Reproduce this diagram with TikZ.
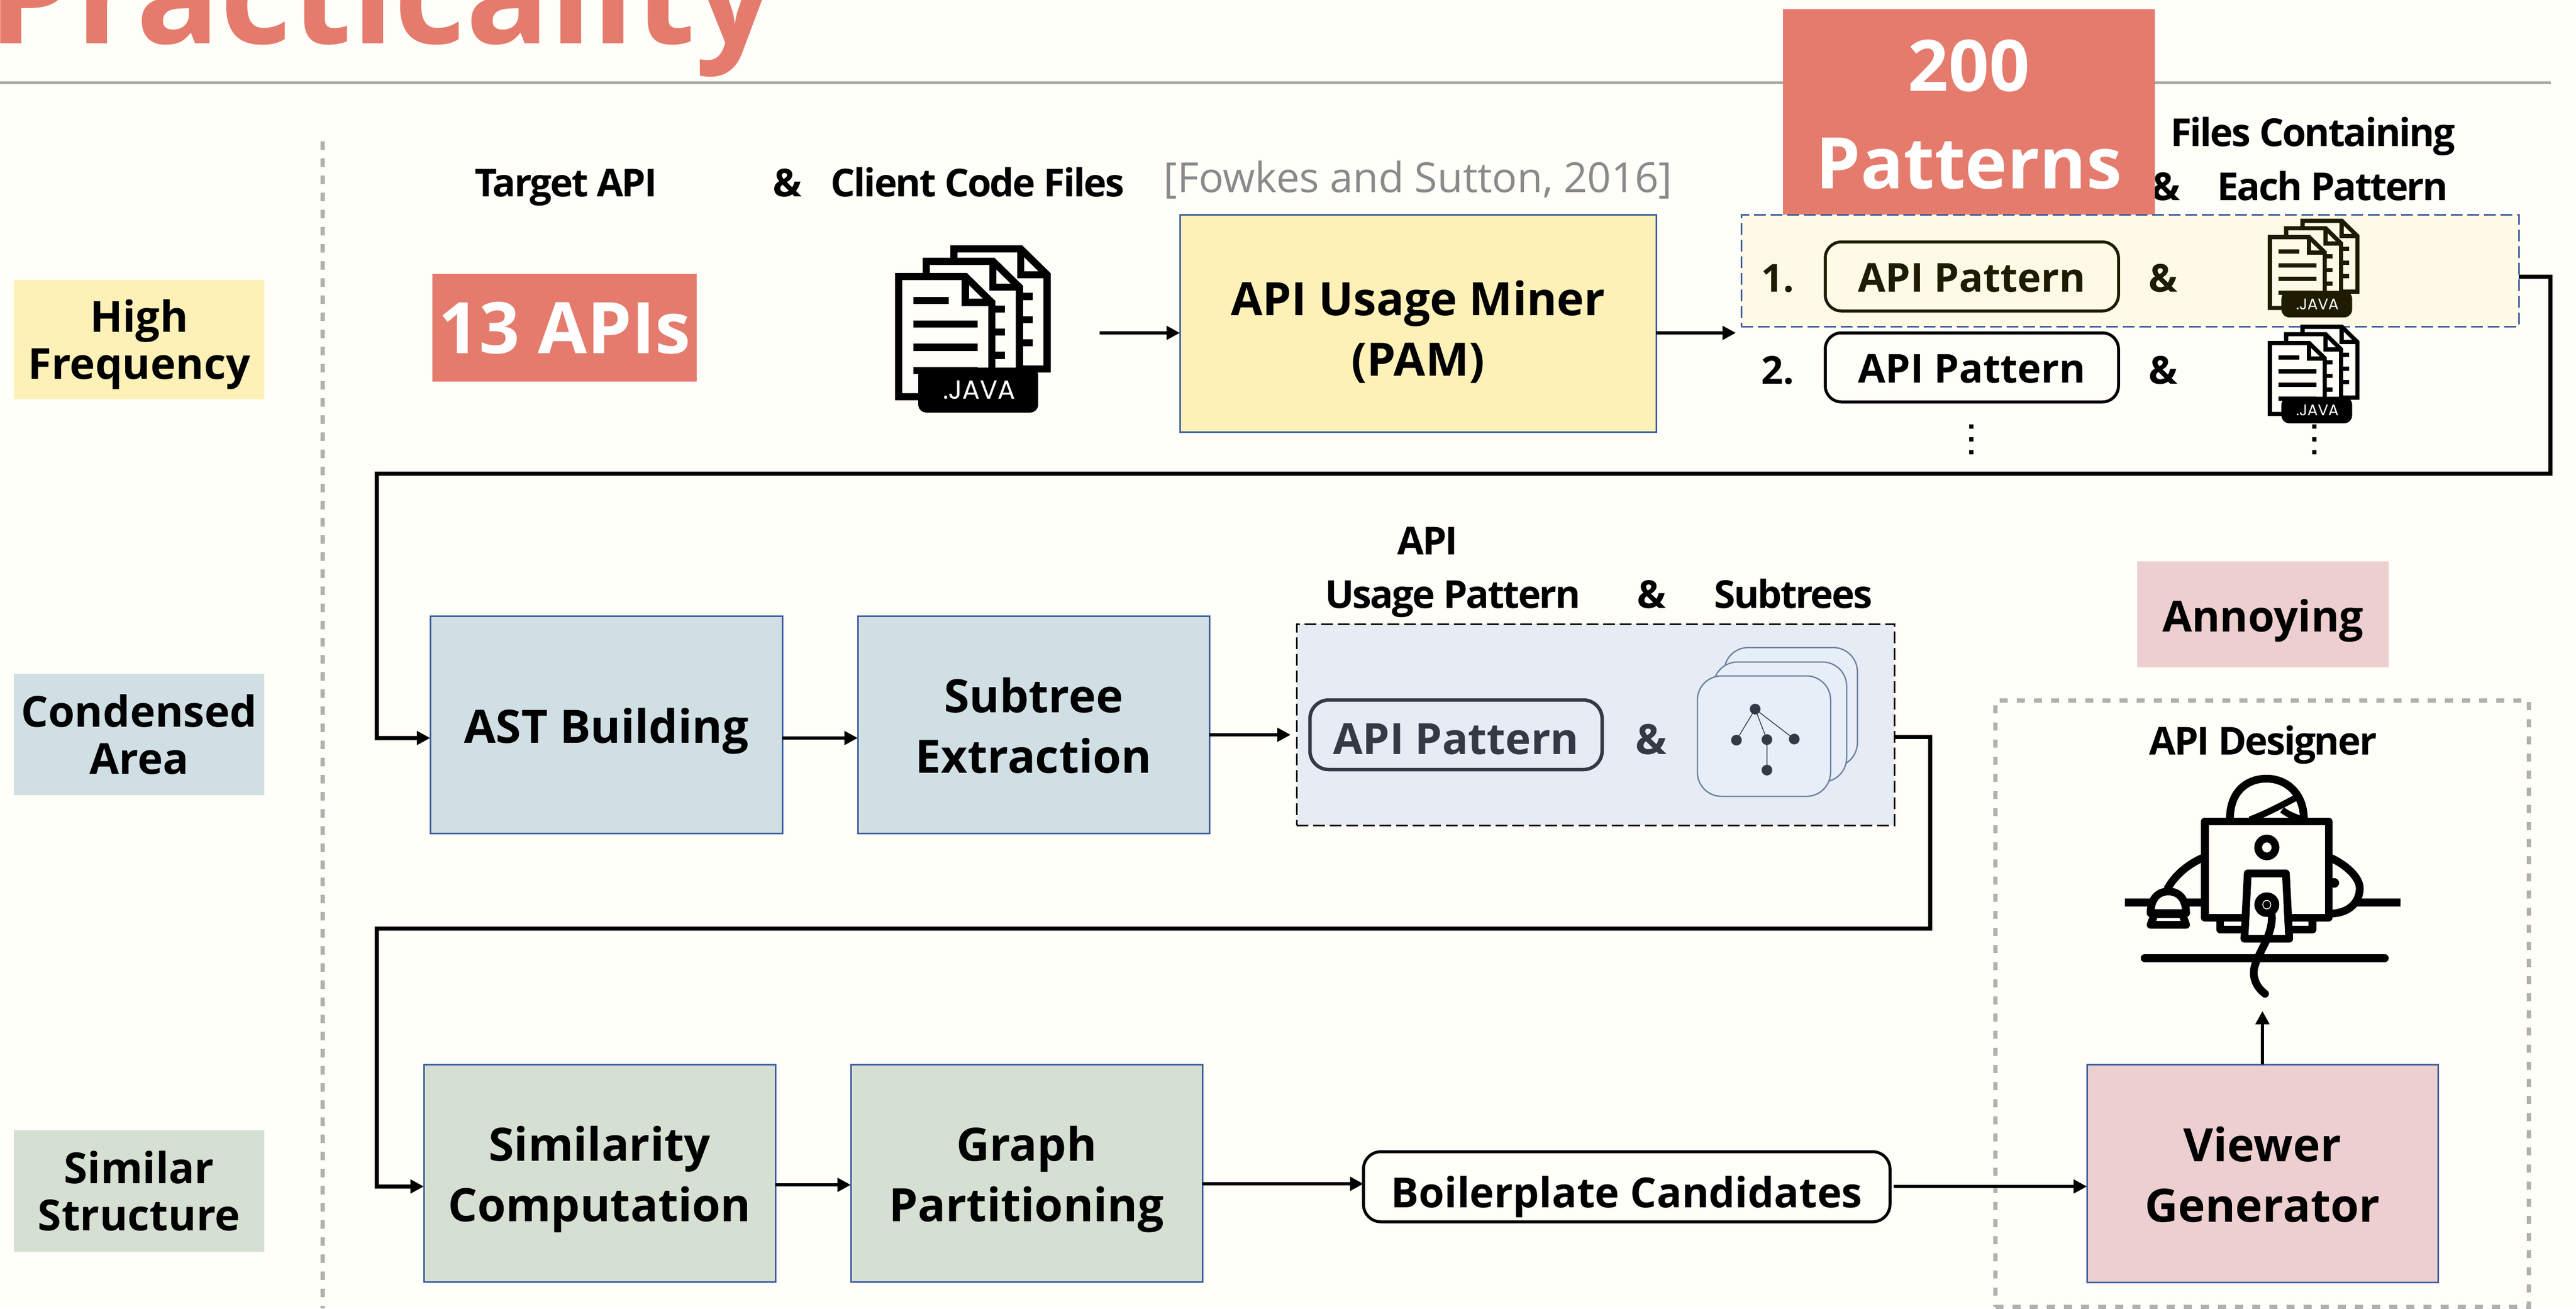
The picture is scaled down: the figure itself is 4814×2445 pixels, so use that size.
\documentclass[tikz,border=0pt]{standalone}
\usepackage{fontspec}
\setmainfont{Open Sans}
\newfontfamily\tightf[LetterSpace=-4]{Open Sans}
\newfontfamily\javaf{Poppins}
\usetikzlibrary{arrows.meta}
\definecolor{bgc}{HTML}{FFFEF9}
\definecolor{salmon}{HTML}{E57B6C}
\definecolor{yel}{HTML}{FDF1B8}
\definecolor{blu}{HTML}{D0DFE4}
\definecolor{grn}{HTML}{D5E0D2}
\definecolor{pnk}{HTML}{ECCFCE}
\definecolor{edge}{HTML}{3F5F9F}
\definecolor{rowc}{HTML}{FEFAE6}
\definecolor{inkd}{HTML}{1E1B00}
\definecolor{patbg}{HTML}{E6EBF4}
\definecolor{slate}{HTML}{333A45}
\definecolor{cardc}{HTML}{E6EEF8}
\definecolor{cardl}{HTML}{6D819F}
\definecolor{gry}{HTML}{B0B0AC}
\definecolor{rule}{HTML}{A9ABA3}
\definecolor{cite}{HTML}{8A8A8A}
\newcommand\bltxt[2]{\rule{0pt}{#1pt}\smash{#2}}
\tikzset{
  x=0.2pt,y=-0.2pt,
  every node/.style={inner sep=0pt,outer sep=0pt},
  flow/.style={draw=black,line width=1.5pt,-{Triangle[width=5pt,length=5pt]}},
  headtxt/.style={anchor=base,font=\tightf\bfseries\fontsize{14.4}{18}\selectfont},
  boxtxt/.style={align=center,font=\bfseries\fontsize{17.2}{22.6}\selectfont},
  stage/.style={draw=edge,line width=0.6pt,boxtxt},
  tag/.style={boxtxt,font=\bfseries\fontsize{16}{17.6}\selectfont},
  pilltxt/.style={font=\bfseries\fontsize{14.9}{18}\selectfont},
  rowtxt/.style={anchor=base,font=\bfseries\fontsize{14.4}{18}\selectfont},
  pill/.style={draw=inkd,line width=1.1pt,rounded corners=6pt,pilltxt},
  treedot/.style={circle,fill=slate,minimum size=4pt},
  card/.style={draw=cardl,line width=0.5pt,fill=cardc,rounded corners=9pt},
  ink/.style={draw=black,line width=2.9pt},
}
% name, x0, y0, x1, y1, style, text
\newcommand\pxbox[7]{%
  \pgfmathsetmacro\bw{(#4-#2)*0.2}\pgfmathsetmacro\bh{(#5-#3)*0.2}%
  \pgfmathsetmacro\bx{(#2+#4)/2}\pgfmathsetmacro\by{(#3+#5)/2}%
  \node[minimum width=\bw pt,minimum height=\bh pt,#6] (#1) at (\bx,\by) {#7};}
% x y scale fill ink
\newcommand\javaicon[5]{%
  \pgfmathsetmacro\ju{0.0667*#3}\pgfmathsetmacro\jw{2.667*#3}\pgfmathsetmacro\jf{9.8*#3}%
  \begin{scope}[shift={(#1,#2)},x=\ju pt,y=-\ju pt,line width=\jw pt,draw=#5]
    \foreach \dx/\dy in {310/-155,155/-85,0/0}{
      \begin{scope}[shift={(\dx,\dy)}]
        \draw[fill=#4,miter limit=4] (238,933)--(238,260)--(612,260)--(760,405)--(760,933)--cycle;
        \draw (612,260)--(612,405)--(760,405);
        \draw (320,395)--(520,395) (320,527)--(680,527) (320,657)--(680,657) (320,787)--(680,787);
      \end{scope}
    }
    \fill[#5,rounded corners=3pt] (348,770) rectangle (1020,1022);
    \node[text=white,font=\javaf\fontsize{\jf}{\jf}\selectfont] (javalabel#1#2) at (690,895) {.JAVA};
  \end{scope}}
\begin{document}
\begin{tikzpicture}
\useasboundingbox (0,0) rectangle (4814,2445);
\clip (0,0) rectangle (4814,2445);
\fill[bgc] (0,0) rectangle (4814,2445);
% title
\node[anchor=base west,text=salmon,font=\bfseries\fontsize{52}{60}\selectfont] (title) at (-22,81) {Practicality};
\draw[rule,line width=1pt] (0,154)--(4767,154);
% left tags
\pxbox{hf}{26}{523}{494}{746}{fill=yel,tag}{High\\\smash{Frequency}}
\pxbox{ca}{26}{1259}{494}{1486}{fill=blu,tag}{Condensed\\Area}
\pxbox{ss}{26}{2112}{494}{2339}{fill=grn,tag}{Similar\\Structure}
\draw[gry,line width=1.7pt,dash pattern=on 3.2pt off 3.2pt] (603,264)--(603,2445);
% top row
\node[headtxt] (tapi) at (1058,367) {Target API};
\node[headtxt] (amp1) at (1471,367) {\&};
\node[headtxt] (ccf) at (1827,367) {Client Code Files};
\node[anchor=base,text=cite,font=\fontsize{15.5}{18}\selectfont] (fowkes) at (2650,359) {[Fowkes and Sutton, 2016]};
\pxbox{apis}{808}{512}{1302}{713}{fill=salmon,text=white,font=\bfseries\fontsize{26.6}{30}\selectfont}{13 APIs}
\javaicon{1600}{430}{1}{bgc}{black}
\coordinate (javaout) at (2055,622);
\pxbox{miner}{2205}{401}{3095}{807}{fill=yel,stage}{\bltxt{16.8}{API Usage Miner}\\\smash{(PAM)}}
\draw[flow,line width=1.3pt] (javaout)--(miner.west |- javaout);
\node[headtxt] (amp2) at (4047,374) {\&};
\pxbox{pats}{3332}{17}{4027}{401}{fill=salmon,text=white,align=center,font=\bfseries\fontsize{26.6}{36.4}\selectfont}{\bltxt{21.4}{200}\\Patterns}
\node[headtxt] (fc) at (4322,273) {Files Containing};
\node[headtxt] (ep) at (4359,374) {Each Pattern};
\pxbox{row}{3254}{401}{4707}{610}{fill=rowc,draw=edge,line width=0.6pt,dash pattern=on 4.4pt off 1.8pt}{}
\coordinate (rowin) at (3244,622);
\draw[flow,line width=1.3pt] (miner.east |- javaout)--(rowin);
\node[rowtxt,text=inkd] (n1) at (3322,545) {1.};
\pxbox{pill1}{3411}{452}{3959}{581}{pill,text=inkd}{\bltxt{11.6}{API Pattern}}
\node[rowtxt,text=inkd] (a1) at (4042,545) {\&};
\javaicon{4195}{392}{0.59}{rowc}{inkd}
\node[rowtxt] (n2) at (3322,717) {2.};
\pxbox{pill2}{3411}{622}{3959}{751}{pill,draw=black}{\bltxt{11.6}{API Pattern}}
\node[rowtxt] (a2) at (4042,717) {\&};
\javaicon{4195}{590}{0.59}{bgc}{black}
\foreach \xx in {3684,4325}\foreach \yy in {797,821,845}
  \fill[black] (\xx-4,\yy-4) rectangle (\xx+4,\yy+4);
% second row
\pxbox{ast}{804}{1151}{1462}{1557}{fill=blu,stage}{\bltxt{13.6}{AST Building}}
\pxbox{sub}{1603}{1151}{2260}{1557}{fill=blu,stage}{\bltxt{13.6}{Subtree}\\\smash{Extraction}}
\draw[flow] ([yshift=-2.3pt]row.east) -- ++(59,0) -- ++(0,368) -- (704,885) |- ([yshift=-5pt]ast.west);
\draw[flow,line width=1.3pt] ([yshift=-5pt]ast.east)--([yshift=-5pt]sub.west);
\node[headtxt] (ap) at (2668,1036) {API};
\node[headtxt] (up) at (2715,1136) {Usage Pattern};
\node[headtxt] (am3) at (3086,1136) {\&};
\node[headtxt] (st) at (3351,1136) {Subtrees};
\pxbox{patbox}{2423}{1166}{3540}{1542}{fill=patbg,draw=black,line width=0.6pt,dash pattern=on 4.4pt off 1.8pt}{}
\coordinate (patin) at (2412,1373);
\draw[flow,line width=1.3pt] (sub.east |- patin)--(patin);
\pxbox{pill3}{2448}{1308}{2994}{1438}{draw=slate,line width=1.3pt,rounded corners=7pt,text=slate,font=\bfseries\fontsize{16.1}{18}\selectfont}{\bltxt{14.4}{API Pattern}}
\node[anchor=base,text=slate,font=\bfseries\fontsize{15.6}{18}\selectfont] (am4) at (3086,1409) {\&};
\pxbox{c3}{3222}{1210}{3471}{1433}{card}{}
\pxbox{c2}{3202}{1237}{3451}{1461}{card}{}
\pxbox{c1}{3172}{1263}{3421}{1488}{card}{}
\node[treedot] (t0) at (3280,1325) {};
\node[treedot] (t1) at (3245,1383) {};
\node[treedot] (t2) at (3302,1382) {};
\node[treedot] (t3) at (3353,1381) {};
\node[treedot] (t4) at (3302,1439) {};
\draw[slate,line width=0.3pt] (t0)--(t1) (t0)--(t2) (t0)--(t3) (t2)--(t4);
% third row
\pxbox{sim}{792}{1989}{1449}{2395}{fill=grn,stage}{\bltxt{13.6}{Similarity}\\\smash{Computation}}
\pxbox{gra}{1590}{1989}{2247}{2395}{fill=grn,stage}{\bltxt{13.6}{Graph}\\\smash{Partitioning}}
\draw[flow] ([yshift=-4.6pt]patbox.east) -- ++(67,0) -- (3607,1735) -- (704,1735) |- ([yshift=-5pt]sim.west);
\draw[flow,line width=1.3pt] ([yshift=-4.4pt]sim.east)--([yshift=-4.4pt]gra.west);
\pxbox{boil}{2548}{2152}{3532}{2283}{draw=black,line width=1.1pt,rounded corners=6.5pt,font=\bfseries\fontsize{15.5}{18}\selectfont}{\bltxt{15.4}{Boilerplate Candidates}}
\coordinate (boilin) at (2548,2212);
\draw[flow,line width=1.3pt] (gra.east |- boilin)--(boilin);
\pxbox{annoy}{3994}{1049}{4464}{1247}{fill=pnk,font=\bfseries\fontsize{16}{18}\selectfont}{\bltxt{12.8}{Annoying}}
\pxbox{devbox}{3729}{1309}{4726}{2442}{draw=gry,line width=1.5pt,dash pattern=on 3pt off 3.4pt}{}
\node[headtxt] (ad) at (4229,1410) {API Designer};
\pxbox{view}{3900}{1989}{4556}{2396}{fill=pnk,stage}{\bltxt{13.6}{Viewer}\\\smash{Generator}}
\coordinate (viewin) at (3539,2217);
\draw[flow,line width=1.3pt] (viewin)--(view.west |- viewin);
\coordinate (devin) at (4228,1889);
\draw[flow,line width=1.3pt] (view.north -| devin)--(devin);
% designer icon
\begin{scope}[shift={(3900,1420)},x=0.0829pt,y=-0.0666pt,line cap=butt,line join=round]
  \draw[ink] (170,800)--(520,800) (1215,800)--(1414,800);
  \draw[ink] (645,345) .. controls (640,180) and (720,105) .. (810,105) .. controls (900,105) and (982,190) .. (978,345);
  \draw[ink,line width=2.4pt] (735,335) .. controls (800,305) and (870,260) .. (945,210);
  \draw[ink,line width=2.4pt] (880,280) .. controls (905,305) and (935,320) .. (975,335);
  \draw[ink] (520,550) .. controls (450,590) and (395,650) .. (362,725);
  \draw[ink] (1100,550) .. controls (1170,590) and (1230,660) .. (1230,720) .. controls (1230,800) and (1180,860) .. (1100,862);
  \fill[black] (1115,690) circle [x radius=22,y radius=27];
  \draw[ink,fill=bgc] (287,860) .. controls (287,780) and (320,738) .. (367,738) .. controls (415,738) and (447,780) .. (447,860) -- cycle;
  \draw[ink,fill=bgc] (305,865)--(430,865)--(447,925)--(287,925)--cycle;
  \draw[ink,fill=bgc] (600,885) rectangle (1017,952);
  \draw[ink,fill=bgc] (532,345) rectangle (1090,885);
  \draw[ink,fill=bgc] (811,491) circle [x radius=39,y radius=50];
  \draw[ink,fill=bgc] (725,637)--(897,637)--(912,1003)--(710,1003)--cycle;
  \fill[black] (811,812) circle [x radius=56,y radius=69];
  \draw[bgc,line width=0.3pt] (811,812) circle [x radius=18,y radius=24];
  \draw[ink,line cap=round] (832,860) .. controls (840,930) and (815,1000) .. (790,1060) .. controls (770,1110) and (750,1160) .. (752,1200) .. controls (755,1250) and (775,1285) .. (803,1312);
  \draw[ink,line cap=round] (260,1112)--(1343,1112);
\end{scope}
\end{tikzpicture}
\end{document}
